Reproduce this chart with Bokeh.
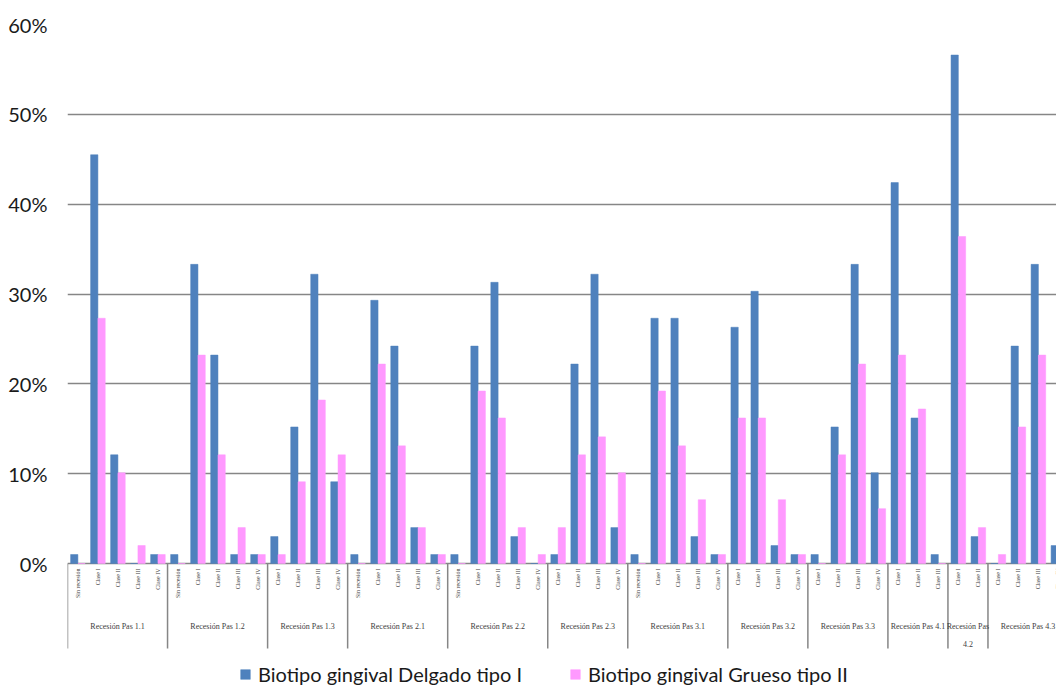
import math

from bokeh.plotting import figure
from bokeh.models import (Range1d, FixedTicker, NumeralTickFormatter,
                          Legend, LegendItem, ColumnDataSource)
from bokeh.core.properties import value
from bokeh.embed import file_html
from bokeh.resources import INLINE

# Grupos de recesión y clases presentes en cada uno
grupos = ["Recesión Pas 1.1", "Recesión Pas 1.2", "Recesión Pas 1.3", "Recesión Pas 2.1",
          "Recesión Pas 2.2", "Recesión Pas 2.3", "Recesión Pas 3.1", "Recesión Pas 3.2",
          "Recesión Pas 3.3", "Recesión Pas 4.1", "Recesión Pas\n4.2", "Recesión Pas 4.3"]

clases = [
    ["Sin recesión", "Clase I", "Clase II", "Clase III", "Clase IV"],
    ["Sin recesión", "Clase I", "Clase II", "Clase III", "Clase IV"],
    ["Clase I", "Clase II", "Clase III", "Clase IV"],
    ["Sin recesión", "Clase I", "Clase II", "Clase III", "Clase IV"],
    ["Sin recesión", "Clase I", "Clase II", "Clase III", "Clase IV"],
    ["Clase I", "Clase II", "Clase III", "Clase IV"],
    ["Sin recesión", "Clase I", "Clase II", "Clase III", "Clase IV"],
    ["Clase I", "Clase II", "Clase III", "Clase IV"],
    ["Clase I", "Clase II", "Clase III", "Clase IV"],
    ["Clase I", "Clase II", "Clase III"],
    ["Clase I", "Clase II"],
    ["Clase I", "Clase II", "Clase III", "Clase IV"],
]

# Porcentajes por biotipo (mismo orden que "clases")
delgado = [
    [1, 45.5, 12.1, 0, 1],
    [1, 33.3, 23.2, 1, 1],
    [3, 15.2, 32.2, 9.1],
    [1, 29.3, 24.2, 4, 1],
    [1, 24.2, 31.3, 3, 0],
    [1, 22.2, 32.2, 4],
    [1, 27.3, 27.3, 3, 1],
    [26.3, 30.3, 2, 1],
    [1, 15.2, 33.3, 10.1],
    [42.4, 16.2, 1],
    [56.6, 3],
    [0, 24.2, 33.3, 2],
]

grueso = [
    [0, 27.3, 10.1, 2, 1],
    [0, 23.2, 12.1, 4, 1],
    [1, 9.1, 18.2, 12.1],
    [0, 22.2, 13.1, 4, 1],
    [0, 19.2, 16.2, 4, 1],
    [4, 12.1, 14.1, 10.1],
    [0, 19.2, 13.1, 7.1, 1],
    [16.2, 16.2, 7.1, 1],
    [0, 12.1, 22.2, 6.1],
    [23.2, 17.2, 0],
    [36.4, 4],
    [1, 15.2, 23.2, 1],
]

y_ticks = [0, 0.1, 0.2, 0.3, 0.4, 0.5, 0.6]

AZUL = "#4F81BD"
ROSA = "#FF99FF"
GRIS = "#868686"
FUENTE = "Lato"
SERIF = "Liberation Serif"

# Posiciones: cada clase ocupa una unidad del eje x
centros, etiquetas, d_vals, g_vals = [], [], [], []
limites, centros_grupo = [0], []
pos = 0
for g, cls in enumerate(clases):
    inicio = pos
    for k, c in enumerate(cls):
        centros.append(pos + 0.5)
        etiquetas.append(c)
        d_vals.append(delgado[g][k] / 100)
        g_vals.append(grueso[g][k] / 100)
        pos += 1
    limites.append(pos)
    centros_grupo.append((inicio + pos) / 2)

ancho = 0.365
src = ColumnDataSource(dict(
    x_d=[c - ancho / 2 + 0.02 for c in centros],
    x_g=[c + ancho / 2 + 0.02 for c in centros],
    delgado=d_vals,
    grueso=g_vals,
))

# El área de trazado baja por debajo de 0 para alojar las etiquetas de categoría
ALTO, TOP, Y0 = 686, 24, 563
px_por_unidad = (Y0 - TOP) / 0.6
y_min = -(ALTO - Y0) / px_por_unidad


def px(d):
    """Distancia vertical en píxeles expresada en unidades del eje y."""
    return d / px_por_unidad


p = figure(width=1056, height=ALTO,
           x_range=Range1d(0, 49.425), y_range=Range1d(y_min, 0.6),
           x_axis_location=None,
           output_backend="svg", toolbar_location=None,
           min_border_left=67, min_border_right=0,
           min_border_top=TOP, min_border_bottom=0)
p.outline_line_color = None
p.background_fill_color = "white"
p.border_fill_color = "white"

# Eje y en porcentaje, solo etiquetas y rejilla
p.yaxis.ticker = FixedTicker(ticks=y_ticks)
p.yaxis.formatter = NumeralTickFormatter(format="0%")
p.yaxis.axis_line_color = None
p.yaxis.major_tick_line_color = None
p.yaxis.minor_tick_line_color = None
p.yaxis.major_label_standoff = 14
p.yaxis.major_label_text_font = FUENTE
p.yaxis.major_label_text_font_size = "20px"
p.yaxis.major_label_text_color = "#1a1a1a"

p.xgrid.visible = False
p.ygrid.ticker = FixedTicker(ticks=y_ticks)
p.ygrid.grid_line_color = GRIS
p.ygrid.grid_line_width = 1.5

r_d = p.vbar(x="x_d", top="delgado", width=ancho, source=src,
             fill_color=AZUL, line_color=AZUL, line_width=0.5)
r_g = p.vbar(x="x_g", top="grueso", width=ancho, source=src,
             fill_color=ROSA, line_color=ROSA, line_width=0.5)

# Separadores entre grupos bajo el eje
p.segment(x0=limites, y0=[0] * len(limites), x1=limites, y1=[-px(85)] * len(limites),
          line_color=GRIS, line_width=1.5)

# Etiquetas de clase, verticales
p.text(x=centros, y=[-px(5)] * len(centros), text=etiquetas,
       angle=math.pi / 2, text_align="right", text_baseline="middle",
       text_font=value(SERIF), text_font_size="6px", text_color="#404040")

# Etiquetas de grupo
p.text(x=centros_grupo, y=[-px(58)] * len(centros_grupo), text=grupos,
       text_align="center", text_baseline="top", text_line_height=2.0,
       text_font=value(SERIF), text_font_size="8px", text_color="#404040")

leyenda = Legend(
    items=[LegendItem(label="Biotipo gingival Delgado tipo I", renderers=[r_d]),
           LegendItem(label="Biotipo gingival Grueso tipo II", renderers=[r_g])],
    location=(172, 0),
    orientation="horizontal",
    padding=0, margin=0, spacing=47,
    glyph_width=12, glyph_height=12, label_standoff=7,
    label_text_font=FUENTE, label_text_font_size="20px",
    label_text_color="#1a1a1a",
    border_line_color=None, background_fill_alpha=0,
)
p.add_layout(leyenda)

open("out.html", "w").write(file_html(p, INLINE))
